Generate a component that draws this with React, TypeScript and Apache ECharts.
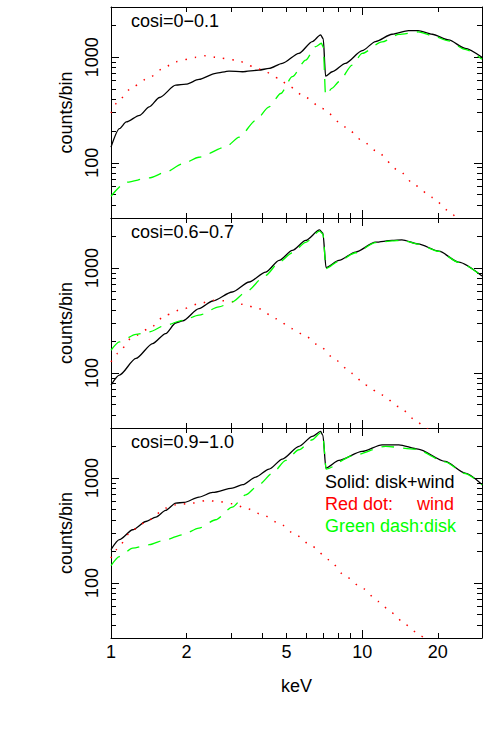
import React, { useEffect, useRef } from "react";
import * as echarts from "echarts";

// panel titles
const panelLabels = ["cosi=0\u22120.1", "cosi=0.6\u22120.7", "cosi=0.9\u22121.0"];

// axis ticks / labels
const xLabelValues = [1, 2, 5, 10, 20];
const xMajorTicks = [1, 10];
const xMinorTicks = [2, 3, 4, 5, 6, 7, 8, 9, 20];
const yLabelValues = [100, 1000];
const yMajorTicks = [100, 1000];
const yMinorTicks = [40, 50, 60, 70, 80, 90, 200, 300, 400, 500, 600, 700, 800, 900, 2000];

// panel 1: cosi = 0 - 0.1
const solid1E = [1, 1.08, 1.15, 1.3, 1.42, 1.56, 1.81, 1.99, 2.24, 2.61, 2.95, 3.34, 3.88, 4.26, 4.81, 5.6, 6.33, 6.83, 7.0, 7.15, 7.6, 8.58, 10, 11.3, 13.15, 15.3, 16.7, 19, 22.1, 25.7, 30];
const solid1C = [141, 211, 244, 282, 339, 416, 545, 557, 617, 705, 741, 730, 757, 785, 877, 1091, 1409, 1632, 1500, 664, 730, 877, 1157, 1410, 1655, 1795, 1795, 1655, 1462, 1218, 1000];
const wind1E = [1, 1.08, 1.22, 1.42, 1.65, 1.81, 2.18, 2.39, 2.61, 3.14, 3.71, 4.0, 4.67, 5.11, 5.96, 6.93, 8.58, 10, 11.3, 14, 16.3, 19, 22.1, 24];
const wind1C = [297, 398, 526, 645, 815, 910, 1000, 1037, 1000, 943, 815, 757, 631, 533, 416, 327, 219, 163, 131, 84.5, 60.8, 47, 35.2, 28.5];
const disk1E = [1, 1.15, 1.42, 1.65, 1.93, 2.24, 2.86, 3.24, 3.77, 4.26, 4.74, 5.27, 5.96, 6.53, 6.88, 7.0, 7.15, 7.6, 8.08, 9.12, 10, 12, 14, 16.7, 19, 22.1, 25.7, 30];
const disk1C = [48.2, 65.5, 72, 81.5, 97.8, 113, 141, 175, 253, 339, 454, 655, 943, 1264, 1360, 1250, 440, 511, 587, 845, 1091, 1400, 1650, 1740, 1610, 1430, 1190, 960];

// panel 2: cosi = 0.6 - 0.7
const solid2E = [1, 1.08, 1.257, 1.464, 1.65, 1.81, 1.93, 2.24, 2.54, 3.04, 3.55, 4.13, 4.67, 5.27, 5.96, 6.77, 6.98, 7.18, 8.08, 9.41, 11.3, 13.15, 14.4, 16.7, 20.2, 24.2, 30];
const solid2C = [76.9, 95.7, 138, 191, 238, 300, 314, 411, 486, 592, 737, 916, 1182, 1472, 1833, 2311, 2150, 1010, 1182, 1419, 1766, 1833, 1859, 1702, 1450, 1140, 840];
const wind2E = [1, 1.063, 1.22, 1.42, 1.65, 1.93, 2.24, 2.54, 2.95, 3.34, 3.88, 4.53, 5.27, 5.96, 6.83, 7.83, 9.12, 10.3, 12, 14, 16.3, 17.6, 18.5];
const wind2C = [128, 154, 221, 265, 356, 408, 458, 493, 486, 452, 411, 330, 265, 224, 178, 133, 99.3, 76.9, 61.8, 47.9, 35.8, 30.9, 28.5];
const disk2E = [1, 1.08, 1.257, 1.42, 1.65, 1.93, 2.24, 2.69, 3.04, 3.44, 4.13, 4.67, 5.27, 5.96, 6.77, 6.98, 7.18, 8.08, 9.41, 11.3, 13.15, 14.4, 16.7, 20.2, 24.2, 30];
const disk2C = [165, 198, 234, 247, 286, 318, 356, 427, 476, 592, 852, 1140, 1400, 1760, 2250, 2100, 990, 1165, 1400, 1745, 1815, 1840, 1690, 1440, 1135, 838];

// panel 3: cosi = 0.9 - 1.0
const solid3E = [1, 1.08, 1.22, 1.377, 1.51, 1.65, 1.81, 1.955, 2.24, 2.54, 3.04, 3.34, 3.77, 4.26, 4.81, 5.6, 6.33, 6.83, 6.98, 7.17, 8.08, 10, 12, 14, 16.7, 21.4, 25.7, 30];
const solid3C = [208, 259, 322, 386, 425, 492, 578, 587, 659, 730, 803, 865, 1022, 1218, 1517, 2003, 2495, 2782, 2550, 1245, 1473, 1794, 2076, 2076, 1888, 1442, 1116, 870];
const wind3E = [1, 1.047, 1.22, 1.42, 1.65, 1.81, 2.11, 2.39, 2.69, 3.04, 3.44, 4.0, 4.67, 5.43, 6.33, 7.37, 8.58, 10, 11.6, 13.15, 14.9, 17.1, 18];
const wind3C = [173, 208, 322, 401, 518, 557, 578, 612, 600, 570, 518, 448, 373, 289, 223, 167, 116, 89.6, 66.8, 51.8, 40.1, 31.5, 28.5];
const disk3E = [1, 1.08, 1.22, 1.42, 1.65, 1.93, 2.24, 2.61, 3.04, 3.44, 3.88, 4.4, 4.96, 5.6, 6.33, 6.83, 6.98, 7.19, 9.12, 12.4, 16.3, 21.4, 25.7, 30];
const disk3C = [147, 179, 215, 232, 259, 289, 334, 401, 529, 693, 865, 1116, 1473, 1862, 2318, 2700, 2450, 1218, 1632, 2003, 1888, 1430, 1105, 860];

const panels = [
  { solid: [solid1E, solid1C], wind: [wind1E, wind1C], disk: [disk1E, disk1C] },
  { solid: [solid2E, solid2C], wind: [wind2E, wind2C], disk: [disk2E, disk2C] },
  { solid: [solid3E, solid3C], wind: [wind3E, wind3C], disk: [disk3E, disk3C] },
];

const FONT = "'Liberation Sans', Arial, sans-serif";
const RED = "#ff0000";
const GREEN = "#00ff00";
const gridTops = [7, 218, 428];
const gridHeights = [211, 210, 210];

const zip = (e: number[], c: number[]) => e.map((x, i) => [x, c[i]]);
const plain = (v: number) => String(Math.round(v));

const App: React.FC = () => {
  const chartRef = useRef<HTMLDivElement>(null);

  useEffect(() => {
    const chart = echarts.init(chartRef.current!, null, { renderer: "svg" });

    const grids = gridTops.map((top, i) => ({
      left: 111,
      right: 3,
      top,
      height: gridHeights[i],
    }));

    const xAxes: any[] = [];
    const yAxes: any[] = [];
    gridTops.forEach((_, i) => {
      const isLast = i === gridTops.length - 1;
      ["bottom", "top"].forEach((pos) => {
        const showLabel = pos === "bottom" && isLast;
        xAxes.push({
          type: "log",
          gridIndex: i,
          position: pos,
          min: 1,
          max: 30,
          axisLine: { show: true, onZero: false, lineStyle: { color: "#000", width: 1 } },
          axisTick: { show: true, inside: true, length: 8, customValues: xMajorTicks, lineStyle: { color: "#000" } },
          axisLabel: showLabel
            ? { show: true, customValues: xLabelValues, formatter: plain, margin: 5, color: "#000", fontSize: 18, fontFamily: FONT }
            : { show: false },
          splitLine: { show: false },
          name: showLabel ? "keV" : "",
          nameLocation: "middle",
          nameGap: 39,
          nameTextStyle: { color: "#000", fontSize: 18, fontFamily: FONT },
        });
        xAxes.push({
          type: "log",
          gridIndex: i,
          position: pos,
          min: 1,
          max: 30,
          axisLine: { show: false },
          axisTick: { show: true, inside: true, length: 5, customValues: xMinorTicks, lineStyle: { color: "#000" } },
          axisLabel: { show: false },
          splitLine: { show: false },
        });
      });
      ["left", "right"].forEach((pos) => {
        const showLabel = pos === "left";
        yAxes.push({
          type: "log",
          gridIndex: i,
          position: pos,
          min: 30,
          max: 3000,
          axisLine: { show: true, onZero: false, lineStyle: { color: "#000", width: 1 } },
          axisTick: { show: true, inside: true, length: 8, customValues: yMajorTicks, lineStyle: { color: "#000" } },
          axisLabel: showLabel
            ? { show: true, customValues: yLabelValues, formatter: plain, rotate: 90, margin: 10, color: "#000", fontSize: 18, fontFamily: FONT }
            : { show: false },
          splitLine: { show: false },
          name: showLabel ? "counts/bin" : "",
          nameLocation: "middle",
          nameGap: 35,
          nameTextStyle: { color: "#000", fontSize: 18, fontFamily: FONT },
        });
        yAxes.push({
          type: "log",
          gridIndex: i,
          position: pos,
          min: 30,
          max: 3000,
          axisLine: { show: false },
          axisTick: { show: true, inside: true, length: 5, customValues: yMinorTicks, lineStyle: { color: "#000" } },
          axisLabel: { show: false },
          splitLine: { show: false },
        });
      });
    });

    const series: any[] = [];
    panels.forEach((p, i) => {
      const common = {
        type: "line",
        xAxisIndex: i * 4,
        yAxisIndex: i * 4,
        symbol: "none",
        smooth: 0.25,
        smoothMonotone: "x",
        clip: true,
        silent: true,
      };
      series.push({
        ...common,
        name: "disk+wind",
        data: zip(p.solid[0], p.solid[1]),
        lineStyle: { color: "#000", width: 1.3, type: "solid" },
      });
      series.push({
        ...common,
        name: "wind",
        data: zip(p.wind[0], p.wind[1]),
        lineStyle: { color: RED, width: 1.5, type: [1.5, 8] },
      });
      series.push({
        ...common,
        name: "disk",
        data: zip(p.disk[0], p.disk[1]),
        lineStyle: { color: GREEN, width: 1.3, type: [13, 9] },
      });
    });

    const textStyle = (text: string, fill: string) => ({
      text,
      fill,
      fontSize: 18,
      fontFamily: FONT,
    });

    const graphic: any[] = [
      ...panelLabels.map((t, i) => ({
        type: "text",
        left: 131,
        top: gridTops[i] + 5,
        style: textStyle(t, "#000"),
      })),
      { type: "text", left: 325, top: 473, style: textStyle("Solid: disk+wind", "#000") },
      { type: "text", left: 325, top: 495, style: textStyle("Red dot:", RED) },
      { type: "text", left: 417, top: 495, style: textStyle("wind", RED) },
      { type: "text", left: 325, top: 517, style: textStyle("Green dash:disk", GREEN) },
    ];

    chart.setOption({
      animation: false,
      backgroundColor: "#fff",
      grid: grids,
      xAxis: xAxes,
      yAxis: yAxes,
      series,
      graphic,
    });

    return () => {
      chart.dispose();
    };
  }, []);

  return (
    <div
      ref={chartRef}
      style={{ position: "absolute", left: 0, top: 0, width: "485px", height: "737px" }}
    ></div>
  );
};

export default App;
